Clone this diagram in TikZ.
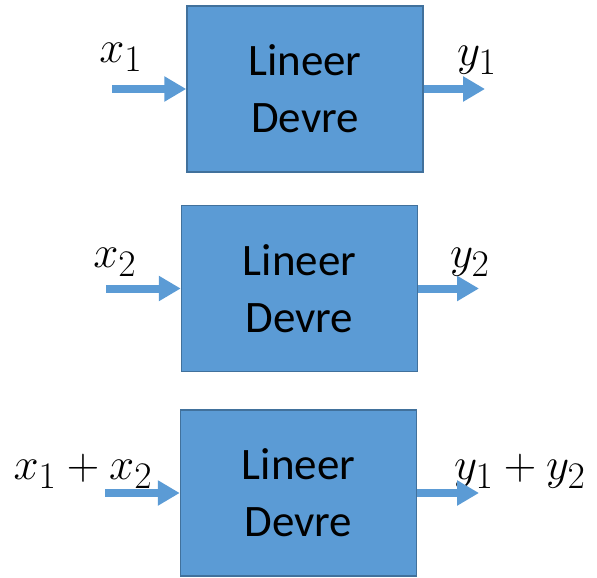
\documentclass[tikz,border=0pt]{standalone}
\usepackage{fontspec}
\setmainfont{Carlito}
\usepackage{tikz}
\usetikzlibrary{arrows.meta,positioning}
\definecolor{BoxBlue}{HTML}{5B9BD5}
\definecolor{EdgeBlue}{HTML}{41719C}

\begin{document}
\begin{tikzpicture}[x=1pt, y=-1pt]
\tikzset{circuit/.style={draw=EdgeBlue, line width=1.5pt, fill=BoxBlue, minimum width=236pt, minimum height=166pt, align=center, inner sep=0pt, font=\fontsize{45}{57}\selectfont}, sig/.style={inner sep=0pt, scale=1.81, font=\fontsize{24.88}{30}\selectfont}, flow/.style={draw=BoxBlue, line width=8pt, -{Triangle[length=22pt,width=24pt]}}}
\useasboundingbox (0,0) rectangle (597,578);
\node[circuit] (lin1) at (305,89) {Lineer\\Devre};
\node[circuit] (lin2) at (299.5,288.5) {Lineer\\Devre};
\node[circuit] (lin3) at (298.5,493) {Lineer\\Devre};
% inputs and outputs
\coordinate (in1) at (112,89);
\coordinate (in2) at (106,288.5);
\coordinate (in3) at (105,493);
\coordinate (out1) at (485,89);
\coordinate (out2) at (479,288.5);
\coordinate (out3) at (479,493);
\node[sig] (x1) at (121,57) {$x_1$};
\node[sig] (y1) at (477,60) {$y_1$};
\node[sig] (x2) at (115,262) {$x_2$};
\node[sig] (y2) at (470,262) {$y_2$};
\node[sig] (x12) at (83,471) {$x_1+x_2$};
\node[sig] (y12) at (520,471) {$y_1+y_2$};
\foreach \i in {1,2,3} {
  \draw[flow] (in\i) -- (lin\i.west);
  \draw[flow] (lin\i.east) -- (out\i);
}
\end{tikzpicture}
\end{document}
